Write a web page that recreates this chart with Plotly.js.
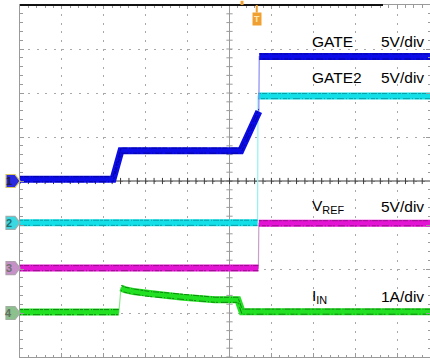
<!DOCTYPE html>
<html><head><meta charset="utf-8">
<script src="https://cdn.plot.ly/plotly-3.0.1.min.js"></script>
<style>html,body{margin:0;padding:0;background:#fff;}#scope{width:430px;height:358px;}</style>
</head><body><div id="scope"></div>
<script>
// Time base: horizontal divisions across the screen (10 div full width)
const gateT  = [0, 2.22, 2.41, 5.27, 5.70, 5.71, 10];
const gateV  = [0.2, 0.2, 3.45, 3.45, 7.9, 14.15, 14.15];   // V
const gate2T = [0, 5.67, 5.68, 10];
const gate2V = [0.0, 0.0, 14.4, 14.4];                      // V
const vrefT  = [0, 5.69, 5.70, 10];
const vrefV  = [0.0, 0.0, 5.1, 5.1];                        // V
const iinT   = [0, 2.36, 2.41, 2.50, 2.70, 3.10, 3.51, 3.89, 4.30, 4.65, 5.20, 5.30, 10];
const iinA   = [0.02, 0.02, 0.57, 0.53, 0.49, 0.43, 0.40, 0.36, 0.33, 0.30, 0.30, 0.03, 0.03]; // A

// Channel settings: vertical scale and ground-marker offset (div)
const chNames   = ['GATE', 'GATE2', 'V<sub>REF</sub>', 'I<sub>IN</sub>'];
const chScale   = ['5V/div', '5V/div', '5V/div', '1A/div'];
const chPerDiv  = [5, 5, 5, 1];
const chOffset  = [0, -0.95, -1.98, -3.0];
const chColor   = ['#0c0ce8', '#12dfe8', '#e414d4', '#22e022'];
const chNoise   = ['#00008a', '#0a8a90', '#7a1070', '#0c6a0c'];
const chEdge    = ['#8c8cf0', '#8ff3f6', '#c8a0c8', '#90e890'];
const chMarkFill= ['#2a2ae0', '#3ad8e0', '#c890c8', '#8cc08c'];
const chMarkLine= ['#d8c860', '#9ab0b0', '#b0a0b0', '#a0b0a0'];
const chMarkText= ['#202050', '#207070', '#707070', '#607060'];

const series = [
  {t: gateT,  v: gateV},
  {t: gate2T, v: gate2V},
  {t: vrefT,  v: vrefV},
  {t: iinT,   v: iinA}
];

const X_MAX = 410 / 41.9;   // visible part of the 10-division screen
const FAST = 0.06;          // edges faster than this are drawn as a thin trace
const BAND = 3 / 44;        // half height of the noise band, in div

function toDiv(ch, vals) { return vals.map(v => chOffset[ch] + v / chPerDiv[ch]); }
function slowOnly(t, y, dy) {
  const xs = [], ys = [];
  for (let i = 0; i < t.length; i++) {
    if (i > 0 && t[i] - t[i - 1] < FAST) { xs.push(null); ys.push(null); }
    xs.push(t[i]); ys.push(y[i] === null ? null : y[i] + dy);
  }
  return {xs, ys};
}

const traces = [];

// graticule: centre lines with small division ticks
const cvx = [], cvy = [], chx = [], chy = [];
cvx.push(5, 5, null); cvy.push(-4, 4, null);
for (let k = -20; k <= 20; k++) { const y = k / 5; cvx.push(5 - 0.075, 5 + 0.075, null); cvy.push(y, y, null); }
chx.push(0, 10, null); chy.push(0, 0, null);
for (let k = 0; k <= 50; k++) { const x = k / 5; chx.push(x, x, null); chy.push(-0.07, 0.07, null); }
traces.push({x: cvx, y: cvy, mode: 'lines', line: {color: '#9a9a9a', width: 1}, hoverinfo: 'skip', showlegend: false});
traces.push({x: chx, y: chy, mode: 'lines', line: {color: '#3a3a3a', width: 1}, hoverinfo: 'skip', showlegend: false});

// waveforms, channel 4 at the bottom of the stack, channel 1 on top
const noiseDash = ['3px,1px,5px,2px,1px,1px,6px,1px', '1px,2px,4px,1px,2px,3px,7px,2px'];
for (let ch = 3; ch >= 0; ch--) {
  const s = series[ch];
  const y = toDiv(ch, s.v);
  traces.push({x: s.t, y: y, mode: 'lines', line: {color: chEdge[ch], width: 1.2},
               hoverinfo: 'skip', showlegend: false});
  const slow = slowOnly(s.t, y, 0);
  traces.push({x: slow.xs, y: slow.ys, mode: 'lines', connectgaps: false,
               line: {color: chColor[ch], width: 7}, hoverinfo: 'skip', showlegend: false});
  // speckled edges of the noisy band
  [BAND * 0.85, -BAND * 0.85].forEach((dy, j) => {
    const e = slowOnly(s.t, y, dy);
    traces.push({x: e.xs, y: e.ys, mode: 'lines', connectgaps: false, opacity: 0.75,
                 line: {color: chNoise[ch], width: 1, dash: noiseDash[j]}, hoverinfo: 'skip', showlegend: false});
  });
}

const font = 'Liberation Sans, Arial, sans-serif';
const labelY = [3.18, 2.35, -0.58, -2.62];
const annotations = [];
for (let ch = 0; ch < 4; ch++) {
  annotations.push({x: 6.95, y: labelY[ch], xref: 'x', yref: 'y', text: chNames[ch], showarrow: false,
    xanchor: 'left', yanchor: 'middle', borderpad: 0, font: {family: font, size: 15.5, color: '#000'}});
  annotations.push({x: 9.67, y: labelY[ch], xref: 'x', yref: 'y', text: chScale[ch], showarrow: false,
    xanchor: 'right', yanchor: 'middle', borderpad: 0, font: {family: font, size: 15.5, color: '#000'}});
  // channel ground markers on the left edge
  annotations.push({x: -0.027, y: chOffset[ch], xref: 'paper', yref: 'y', text: '<b>' + (ch + 1) + '</b>', showarrow: false,
    xanchor: 'center', yanchor: 'middle', borderpad: 0, font: {family: font, size: 11, color: chMarkText[ch]}});
}
// trigger position marker
annotations.push({x: 5.65, y: 4, xref: 'x', yref: 'y', text: '<b>T</b>', showarrow: true, ax: 0, ay: 14,
  arrowhead: 0, arrowwidth: 2, arrowcolor: '#f0a030', bgcolor: '#f0a030', borderpad: 1,
  font: {family: font, size: 9, color: '#ffe8b8'}});

const shapes = [];
for (let ch = 0; ch < 4; ch++) {
  shapes.push({type: 'path', xref: 'paper', yref: 'y', xsizemode: 'pixel', ysizemode: 'pixel',
    xanchor: 0, yanchor: chOffset[ch], path: 'M-14,-6.5 L-5,-6.5 L0,0 L-5,6.5 L-14,6.5 Z',
    fillcolor: chMarkFill[ch], line: {color: chMarkLine[ch], width: 1.2}, layer: 'above'});
}
// record-length bar along the top edge
shapes.push({type: 'line', xref: 'paper', yref: 'paper', x0: 0, x1: 363 / 410, y0: 1, y1: 1,
  line: {color: '#111', width: 2}, layer: 'above'});
shapes.push({type: 'line', xref: 'paper', yref: 'paper', x0: 222 / 410, x1: 222 / 410, y0: 1, y1: 1.012,
  line: {color: '#f0a030', width: 3}, layer: 'above'});

const axisCommon = {
  showticklabels: false, zeroline: false, showline: true, linecolor: '#9a9a9a', linewidth: 1.5,
  mirror: 'ticks', ticks: 'inside', ticklen: 4, tickcolor: '#9a9a9a', dtick: 1, tick0: 0,
  showgrid: true, gridcolor: '#a8a8a8', gridwidth: 1, fixedrange: true,
  minor: {ticks: 'inside', dtick: 0.2, ticklen: 2.5, tickcolor: '#9a9a9a', showgrid: false}
};

const layout = {
  width: 430, height: 358,
  margin: {l: 20, r: 0, t: 5, b: 1, pad: 0},
  paper_bgcolor: '#fff', plot_bgcolor: '#fff',
  showlegend: false,
  xaxis: Object.assign({}, axisCommon, {range: [0, X_MAX], griddash: '2px,6.8px'}),
  yaxis: Object.assign({}, axisCommon, {range: [-4, 4], griddash: '2px,6.4px'}),
  annotations: annotations,
  shapes: shapes
};

Plotly.newPlot('scope', traces, layout, {staticPlot: true, displayModeBar: false});
</script>
</body></html>
